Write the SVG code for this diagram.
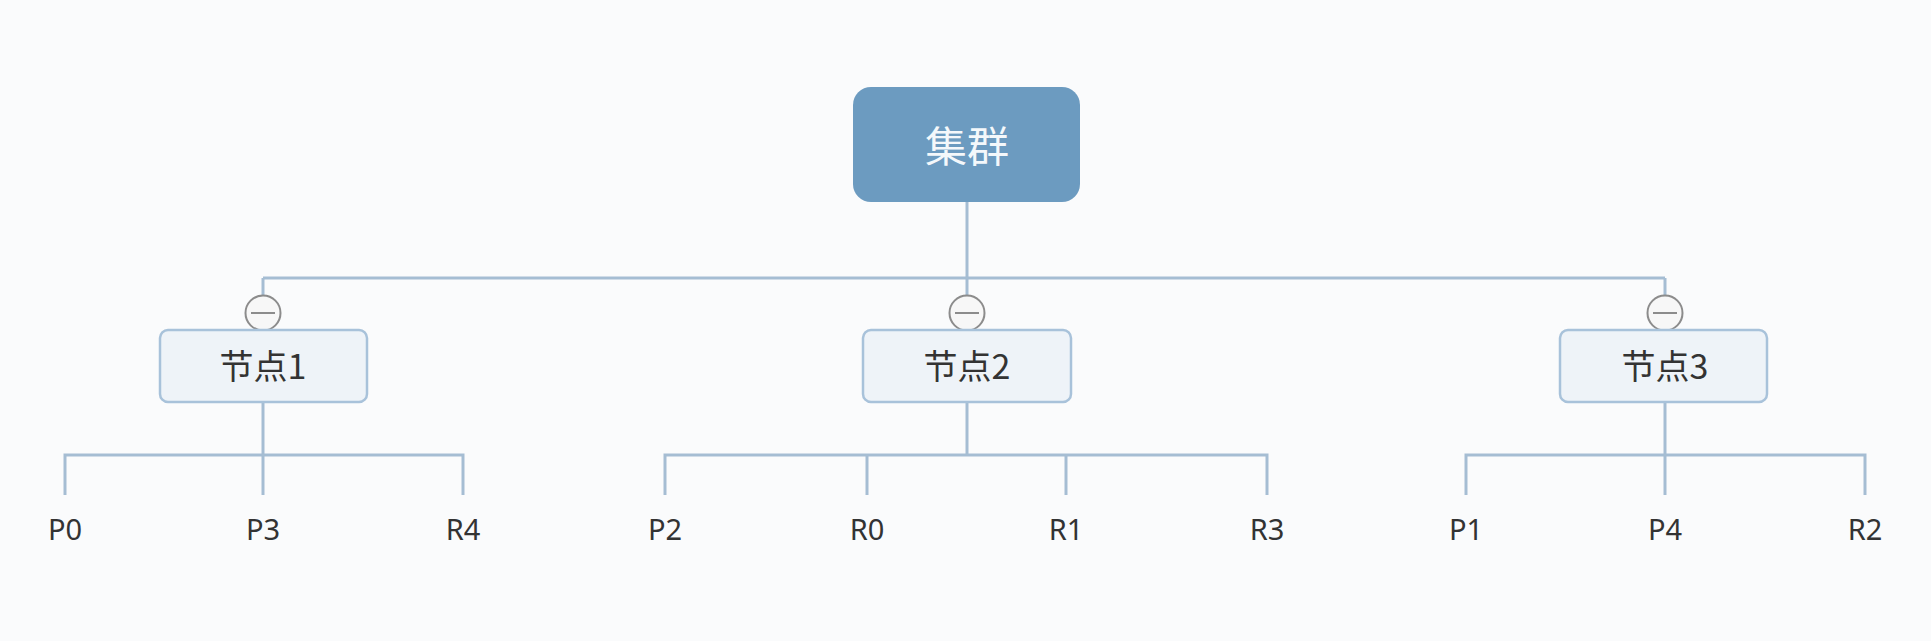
<svg xmlns="http://www.w3.org/2000/svg" width="1931" height="641" viewBox="0 0 1931 641">
<style>
.ln{fill:none;stroke:#a5bdd3;stroke-width:3}
.nb{fill:#eef3f8;stroke:#a8c2da;stroke-width:2.5}
.nt{font-family:"Noto Sans CJK SC","Noto Sans",sans-serif;font-size:34px;fill:#333;text-anchor:middle}
.lt{font-family:"Noto Sans","Open Sans",sans-serif;font-size:29px;fill:#333;text-anchor:middle}
.tg{fill:#f7f7f7;stroke:#8c8c8c;stroke-width:2}
.tm{stroke:#8c8c8c;stroke-width:2}
</style>
<rect width="1931" height="641" fill="#fafbfc"/>
<g id="connectors">
<path class="ln" d="M967 202V278M263 278H1665M263 278V296M967 278V296M1665 278V296"/>
<path class="ln" d="M263 402V455M65 495V455H463V495M263 455V495"/>
<path class="ln" d="M967 402V455M665 495V455H1267V495M867 455V495M1066 455V495"/>
<path class="ln" d="M1665 402V455M1466 495V455H1865V495M1665 455V495"/>
</g>
<g id="root">
<rect x="853" y="87" width="227" height="115" rx="18" fill="#6c9bc0"/>
<text x="967" y="162" font-family="Noto Sans CJK SC,sans-serif" font-size="42" fill="#f4f8fb" text-anchor="middle">集群</text>
</g>
<g id="node1">
<circle class="tg" cx="263" cy="313" r="17.5"/><line class="tm" x1="251" y1="313" x2="275" y2="313"/>
<rect class="nb" x="160" y="330" width="207" height="72" rx="8"/>
<text class="nt" x="263" y="379">节点1</text>
</g>
<g id="node2">
<circle class="tg" cx="967" cy="313" r="17.5"/><line class="tm" x1="955" y1="313" x2="979" y2="313"/>
<rect class="nb" x="863" y="330" width="208" height="72" rx="8"/>
<text class="nt" x="967" y="379">节点2</text>
</g>
<g id="node3">
<circle class="tg" cx="1665" cy="313" r="17.5"/><line class="tm" x1="1653" y1="313" x2="1677" y2="313"/>
<rect class="nb" x="1560" y="330" width="207" height="72" rx="8"/>
<text class="nt" x="1665" y="379">节点3</text>
</g>
<g id="leaf-P0"><text class="lt" x="65" y="540">P0</text></g>
<g id="leaf-P3"><text class="lt" x="263" y="540">P3</text></g>
<g id="leaf-R4"><text class="lt" x="463" y="540">R4</text></g>
<g id="leaf-P2"><text class="lt" x="665" y="540">P2</text></g>
<g id="leaf-R0"><text class="lt" x="867" y="540">R0</text></g>
<g id="leaf-R1"><text class="lt" x="1066" y="540">R1</text></g>
<g id="leaf-R3"><text class="lt" x="1267" y="540">R3</text></g>
<g id="leaf-P1"><text class="lt" x="1466" y="540">P1</text></g>
<g id="leaf-P4"><text class="lt" x="1665" y="540">P4</text></g>
<g id="leaf-R2"><text class="lt" x="1865" y="540">R2</text></g>
</svg>
